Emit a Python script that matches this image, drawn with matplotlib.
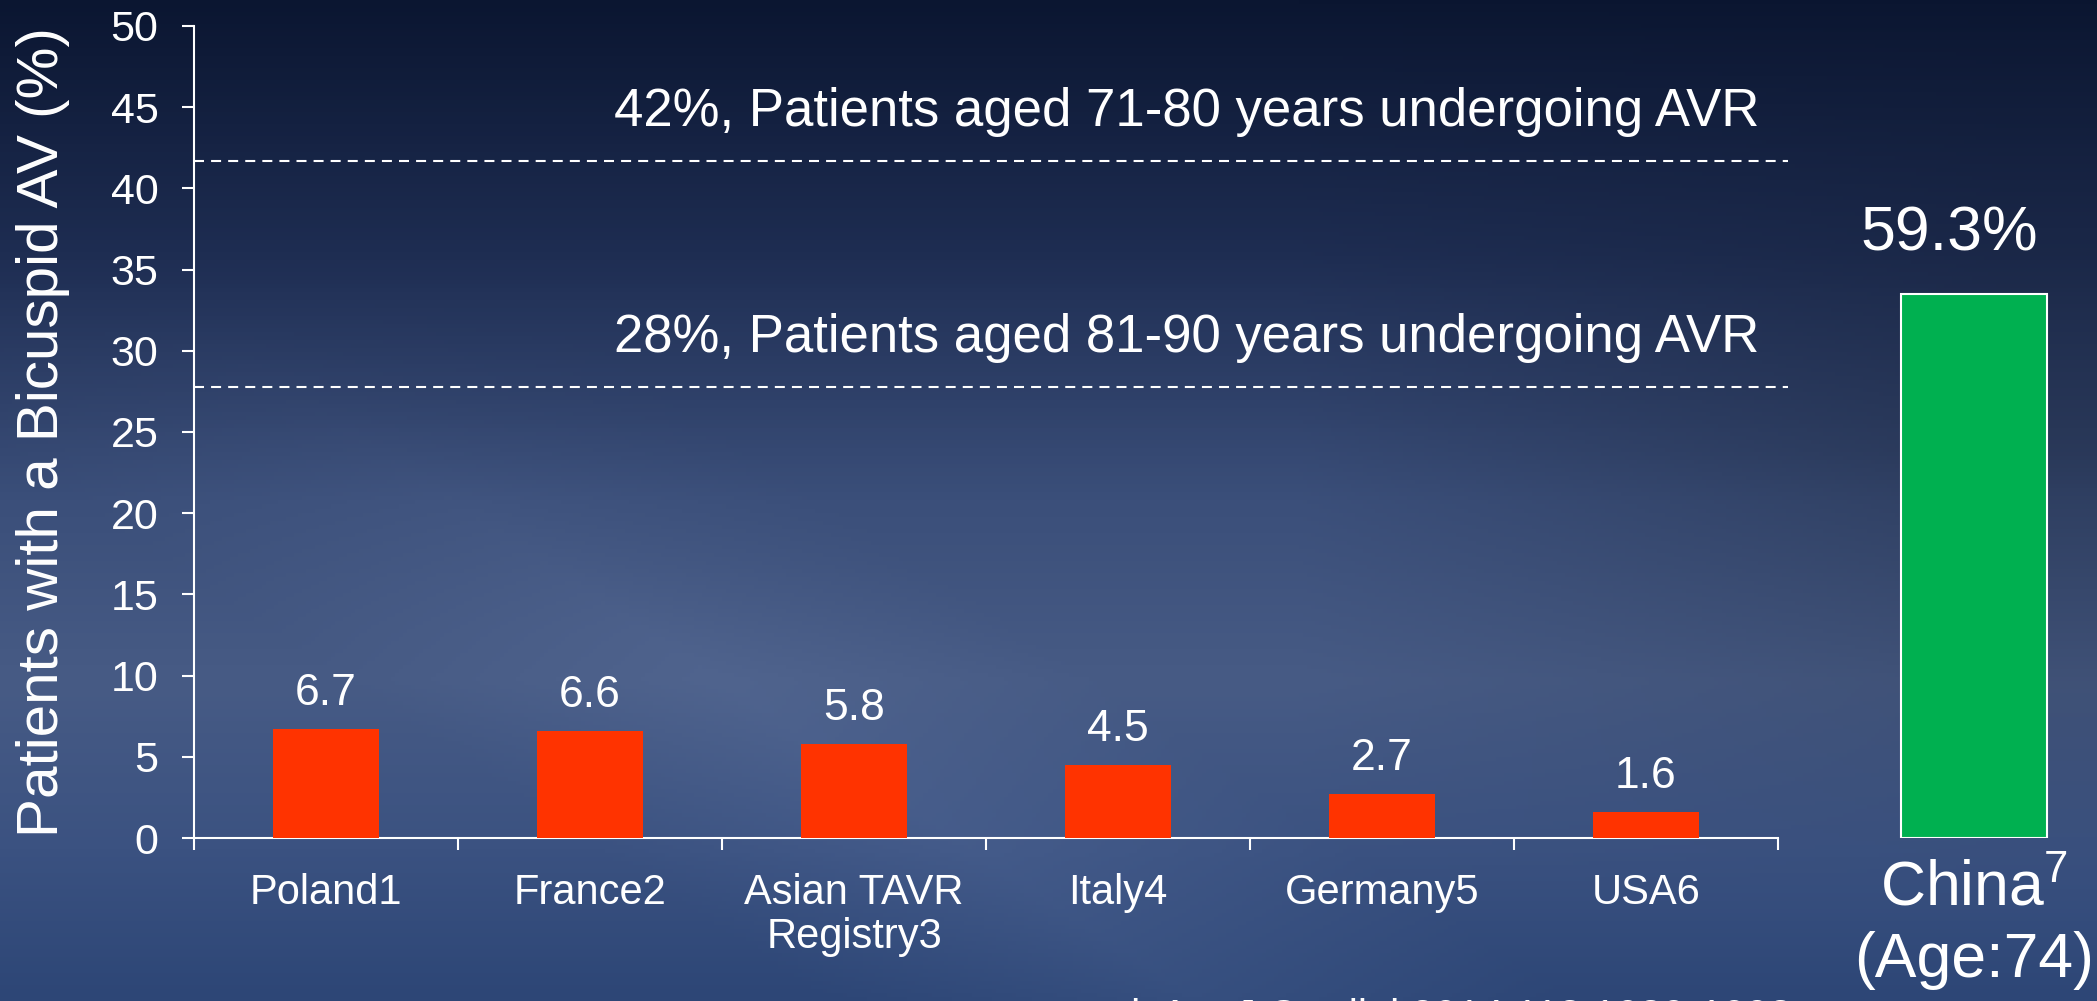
import numpy as np
import matplotlib.pyplot as plt
from matplotlib.colors import LinearSegmentedColormap

plt.rcParams['font.family'] = ['Liberation Sans', 'DejaVu Sans']
plt.rcParams['mathtext.fontset'] = 'custom'
plt.rcParams['mathtext.rm'] = 'Liberation Sans'

# data
countries = ['Poland1', 'France2', 'Asian TAVR\nRegistry3', 'Italy4', 'Germany5', 'USA6']
rates = [6.7, 6.6, 5.8, 4.5, 2.7, 1.6]
ref_levels = [41.7, 27.8]
ref_labels = ['42%, Patients aged 71-80 years undergoing AVR',
              '28%, Patients aged 81-90 years undergoing AVR']
china_rate = 59.3
china_label = 'China$^{\\mathregular{7}}$'
china_age = '(Age:74)'
yticks = list(range(0, 51, 5))
citation = 'al. Am J Cardiol 2014;113:1089-1093'

W, H = 2097, 1001
fig = plt.figure(figsize=(W / 100, H / 100), dpi=100)

# background gradient
bg = fig.add_axes([0, 0, 1, 1], zorder=-10)
h, w = 250, 520
yy, xx = np.mgrid[0:1:h * 1j, 0:1:w * 1j]
cmap = LinearSegmentedColormap.from_list(
    'bg', [(0, '#0b1631'), (0.25, '#1e2d52'), (0.5, '#3b4f7a'),
           (0.68, '#475b85'), (0.85, '#3b5281'), (1, '#2d4676')])
img = cmap(yy)[..., :3]
# darker area on the right, softer lighter diagonal band on the left
dark = np.clip((xx - 0.62) * 3, 0, 1) * np.clip(1 - np.abs(yy - 0.45) * 2.2, 0, 1)
img = img * (1 - 0.22 * dark[..., None])
band = np.clip(1 - np.abs((yy - 0.55) - (xx - 0.25) * 1.4) * 4, 0, 1) * np.clip((yy - 0.3) * 3, 0, 1)
img = img + 0.035 * band[..., None]
bg.imshow(np.clip(img, 0, 1), aspect='auto', extent=[0, 1, 0, 1], origin='upper')
bg.axis('off')

# main axes
x0, x1 = 194 / W, 1778 / W
yb, yt = 1 - 838 / H, 1 - 26 / H
ax = fig.add_axes([x0, yb, x1 - x0, yt - yb])
ax.set_facecolor('none')
pos = np.arange(len(countries))
ax.bar(pos, rates, width=0.4, color='#ff3300', zorder=3)
for p, v in zip(pos, rates):
    ax.annotate(f'{v}', (p, v), xytext=(0, 11), textcoords='offset points',
                ha='center', va='bottom', color='white', fontsize=32)

for lvl, lab in zip(ref_levels, ref_labels):
    ax.axhline(lvl, xmin=0, xmax=1.006, color='white', lw=1.5,
               ls=(0, (4.8, 3.4)), clip_on=False)
    ax.text(5.43, lvl + 3.0, lab, ha='right', va='center', color='white', fontsize=38)

ax.set_xlim(-0.5, 5.5)
ax.set_ylim(0, 50)
ax.set_yticks(yticks)
ax.set_xticks(pos)
ax.set_xticklabels(countries, fontsize=30, color='white', linespacing=1.15)
ax.set_xticks(np.arange(-0.5, 6, 1), minor=True)
ax.tick_params(axis='x', which='major', length=0, pad=25)
ax.tick_params(axis='x', which='minor', length=8.5, width=1.5, color='white')
ax.tick_params(axis='y', length=8.5, width=1.5, color='white', labelcolor='white',
               labelsize=31, pad=17)
for s in ['top', 'right']:
    ax.spines[s].set_visible(False)
for s in ['left', 'bottom']:
    ax.spines[s].set_color('white')
    ax.spines[s].set_linewidth(1.5)
ax.set_ylabel('Patients with a Bicuspid AV (%)', color='white', fontsize=42)
ax.yaxis.set_label_coords(-0.078, 0.5)

# China panel
cx0, cx1 = 1874 / W, 2074 / W
axc = fig.add_axes([cx0, yb, cx1 - cx0, yt - yb])
axc.set_facecolor('none')
axc.bar([0], [china_rate], width=0.73, color='#00b050', edgecolor='white', lw=1.5)
axc.set_xlim(-0.5, 0.5)
axc.set_ylim(0, china_rate * 812 / 544)
axc.axis('off')
fig.text(1949 / W, 1 - 234 / H, f'{china_rate}%', ha='center', va='center',
         color='white', fontsize=45)
fig.text(1974 / W, 1 - 889 / H, china_label, ha='center', va='center',
         color='white', fontsize=45)
fig.text(1974 / W, 1 - 960 / H, china_age, ha='center', va='center',
         color='white', fontsize=45)

fig.text(1792 / W, 1 - 998 / H, citation, ha='right', va='top', color='white', fontsize=30)

fig.savefig('out.png', dpi=100)
